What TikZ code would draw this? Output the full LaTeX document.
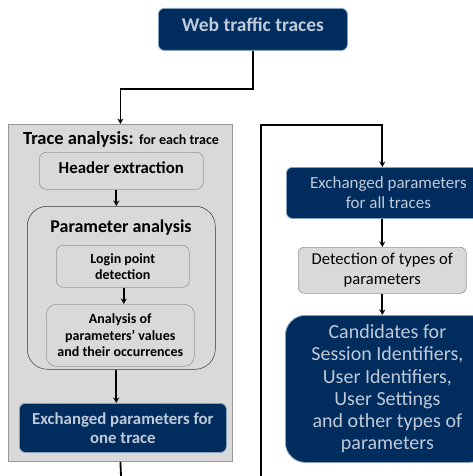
\documentclass[tikz,border=0pt]{standalone}
\usepackage{fontspec}
\setmainfont{Carlito}
\usetikzlibrary{arrows.meta}
\definecolor{navy}{RGB}{0,44,94}
\definecolor{navyedge}{RGB}{135,160,190}
\definecolor{paletext}{RGB}{192,202,216}
\definecolor{panel}{RGB}{217,217,217}
\definecolor{paneledge}{RGB}{150,150,150}
\begin{document}
\begin{tikzpicture}[x=1pt,y=-1pt,
  darkbox/.style={draw=navyedge, line width=0.8pt, fill=navy, text=paletext,
    rounded corners=6pt, anchor=north west, align=center, inner sep=0pt},
  greybox/.style={draw=paneledge, line width=0.6pt, fill=panel, text=black,
    rounded corners=7pt, anchor=north west, align=center, inner sep=0pt},
  arr/.style={line width=1.8pt, -{Stealth[length=5.5pt,width=6pt]}},
  link/.style={line width=1.8pt}]
\useasboundingbox (0,0) rectangle (473,476);
\clip (0,0) rectangle (473,476);

% source of the traces
\node[darkbox, minimum width=189pt, minimum height=42pt, text depth=10pt,
  font=\fontsize{19.5}{22}\selectfont\bfseries] (web) at (158,8) {Web traffic traces};

% per-trace analysis panel
\node[draw=paneledge, line width=0.8pt, fill=panel, anchor=north west,
  minimum width=224pt, minimum height=337pt, inner sep=0pt] (trace) at (8,124) {};
\node[font=\fontsize{18.5}{20}\selectfont\bfseries, inner sep=0pt] (tracetitle) at (121,139)
  {Trace analysis: {\fontsize{14}{16}\selectfont for each trace}};

\node[greybox, minimum width=164pt, minimum height=37pt, text depth=7pt,
  font=\fontsize{16.8}{19}\selectfont\bfseries] (header) at (39,152) {Header extraction};

\node[draw=black!80, line width=0.5pt, fill=panel, rounded corners=20pt, anchor=north west,
  minimum width=188pt, minimum height=163pt, inner sep=0pt] (param) at (27,206) {};
\node[font=\fontsize{18}{20}\selectfont\bfseries, inner sep=0pt] (paramtitle) at (121,228)
  {Parameter analysis};

\node[greybox, minimum width=133pt, minimum height=42pt,
  font=\fontsize{14}{16}\selectfont\bfseries] (login) at (56,245)
  {Login point\\detection};
\node[greybox, rounded corners=10pt, minimum width=148pt, minimum height=62pt,
  font=\fontsize{14}{16.5}\selectfont\bfseries] (occur) at (46,304)
  {Analysis of\\parameters’ values\\and their occurrences};

\node[darkbox, minimum width=207pt, minimum height=49pt,
  font=\fontsize{16.8}{19}\selectfont\bfseries] (onetrace) at (19,403)
  {Exchanged parameters for\\one trace};

% aggregation over all traces
\node[darkbox, minimum width=204pt, minimum height=51pt,
  font=\fontsize{17}{20}\selectfont] (alltraces) at (286,167)
  {Exchanged parameters\\for all traces};
\node[greybox, rounded corners=6pt, minimum width=168pt, minimum height=46pt,
  font=\fontsize{16.6}{20}\selectfont] (types) at (298,247)
  {Detection of types of\\parameters};
\node[darkbox, rounded corners=20pt, minimum width=204pt, minimum height=147pt,
  font=\fontsize{20}{22.2}\selectfont] (cand) at (285,315)
  {Candidates for\\Session Identifiers,\\User Identifiers,\\User Settings\\and other types of\\parameters};

% connectors
\coordinate (outL) at (121,476);
\coordinate (inR) at (261,476);
\coordinate (bendR) at (261,125);

\draw[arr] (web.south) -- ++(0,38) -| (trace.north);
\draw[arr] ([xshift=-5pt]header.south) -- ([xshift=-5pt]header.south |- param.north);
\draw[arr] ([xshift=1pt]login.south) -- ([xshift=1pt]login.south |- occur.north);
\draw[arr] ([xshift=-5pt]param.south) -- ([xshift=-5pt]param.south |- onetrace.north);
\draw[link] (trace.south) -- (outL);

\draw[arr] (inR) -- (bendR) -| (types.north |- alltraces.north);
\draw[arr] (types.north |- alltraces.south) -- (types.north);
\draw[arr] (types.south) -- (types.south |- cand.north);
\end{tikzpicture}
\end{document}
